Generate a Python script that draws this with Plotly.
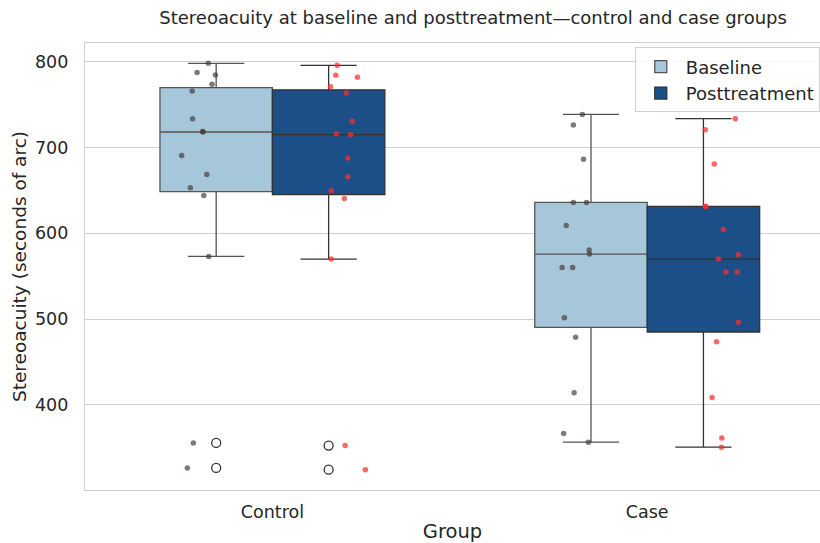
import numpy as np
import plotly.graph_objects as go

groups = ["Control", "Case"]
series = ["Baseline", "Posttreatment"]

# Stereoacuity values (seconds of arc)
control_baseline = [798, 787.2, 784.5, 773.5, 765.8, 733.5, 718.7, 718.0, 690.7,
                    668.6, 653.0, 644.1, 573.0, 355.7, 326.5]
control_post = [795.7, 784.0, 781.7, 770.8, 763.5, 730.4, 716.0, 714.9, 687.7,
                665.9, 649.6, 640.6, 569.9, 352.6, 324.5]
case_baseline = [738.5, 726.2, 686.1, 635.9, 635.9, 609.1, 580.4, 575.7, 560.1,
                 560.1, 501.5, 478.9, 414.0, 366.5, 356.5]
case_post = [733.5, 720.7, 680.7, 631.3, 631.3, 604.4, 574.9, 569.9, 554.8,
             554.8, 496.4, 473.5, 408.5, 361.5, 350.7]

# strip-plot jitter (category units)
jit_control_baseline = [0.029, -0.001, 0.048, 0.039, -0.014, -0.013, 0.014, 0.015, -0.042,
                        0.025, -0.019, 0.017, 0.030, -0.011, -0.027]
jit_control_post = [-0.027, -0.031, 0.027, -0.045, -0.003, 0.013, -0.029, 0.009, 0.001,
                    0.001, -0.043, -0.008, -0.043, -0.006, 0.048]
jit_case_baseline = [0.027, 0.003, 0.030, 0.003, 0.038, -0.016, 0.045, 0.046, -0.027,
                     0.001, -0.021, 0.009, 0.005, -0.023, 0.043]
jit_case_post = [0.035, -0.045, -0.021, -0.045, -0.044, 0.003, 0.043, -0.010, 0.010,
                 0.040, 0.043, -0.015, -0.027, -0.001, -0.002]

data = {
    "Baseline": [control_baseline, case_baseline],
    "Posttreatment": [control_post, case_post],
}
jitter = {
    "Baseline": [jit_control_baseline, jit_case_baseline],
    "Posttreatment": [jit_control_post, jit_case_post],
}

fill = {"Baseline": "#a6c6da", "Posttreatment": "#1c4f88"}
edge = {"Baseline": "#555555", "Posttreatment": "#333333"}
dot = {"Baseline": "rgba(70,58,58,0.68)", "Posttreatment": "rgba(255,45,45,0.72)"}
box_off = {"Baseline": -0.15, "Posttreatment": 0.15}
strip_off = {"Baseline": -0.2, "Posttreatment": 0.2}

def stats(v):
    a = np.sort(np.asarray(v, float))
    q1, med, q3 = np.percentile(a, [25, 50, 75])
    iqr = q3 - q1
    lo = a[a >= q1 - 1.5 * iqr].min()
    hi = a[a <= q3 + 1.5 * iqr].max()
    out = a[(a < lo) | (a > hi)]
    return q1, med, q3, lo, hi, out

fig = go.Figure()

for s in series:
    xs, q1s, meds, q3s, los, his = [], [], [], [], [], []
    oxs, oys = [], []
    for gi, g in enumerate(groups):
        q1, med, q3, lo, hi, out = stats(data[s][gi])
        xs.append(gi + box_off[s]); q1s.append(q1); meds.append(med); q3s.append(q3)
        los.append(lo); his.append(hi)
        oxs += [gi + box_off[s]] * len(out); oys += list(out)
    fig.add_trace(go.Box(
        name=s, x=xs, q1=q1s, median=meds, q3=q3s, lowerfence=los, upperfence=his,
        width=0.3, whiskerwidth=0.5, fillcolor=fill[s],
        line=dict(color=edge[s], width=1.3), boxpoints=False, showlegend=True,
    ))
    fig.add_trace(go.Scatter(
        x=oxs, y=oys, mode="markers", showlegend=False, hoverinfo="skip",
        marker=dict(symbol="circle-open", size=9, color="#333333", line=dict(width=1.3)),
    ))

for s in series:
    for gi, g in enumerate(groups):
        ys = data[s][gi]
        xs = [gi + strip_off[s] + j for j in jitter[s][gi]]
        fig.add_trace(go.Scatter(
            x=xs, y=ys, mode="markers", showlegend=False, hoverinfo="skip",
            marker=dict(size=5.5, color=dot[s], line=dict(width=0)),
        ))

fig.update_layout(
    width=820, height=543,
    margin=dict(l=85, r=0, t=43, b=53, autoexpand=False),
    paper_bgcolor="white", plot_bgcolor="white",
    font=dict(family="DejaVu Sans", color="#262626", size=17.5),
    title=dict(text="Stereoacuity at baseline and posttreatment—control and case groups",
               x=0.528, xref="paper", xanchor="center", y=0.967, yanchor="middle",
               font=dict(size=18, color="#262626")),
    xaxis=dict(range=[-0.5, 1.461], tickvals=[0, 1], ticktext=groups,
               showgrid=False, zeroline=False, showline=True, mirror=True,
               linecolor="#d0d0d0", linewidth=1.3, ticks="", ticklabelstandoff=6,
               tickfont=dict(size=17.5),
               title=dict(text="Group", font=dict(size=19.5), standoff=8)),
    yaxis=dict(range=[300.8, 821.7], tickvals=[400, 500, 600, 700, 800],
               showgrid=True, gridcolor="#d0d0d0", gridwidth=1.1, zeroline=False,
               showline=True, mirror=False, linecolor="#d0d0d0", linewidth=1.3, ticks="",
               ticklabelstandoff=12, tickfont=dict(size=17.5),
               title=dict(text="Stereoacuity (seconds of arc)", font=dict(size=18.5), standoff=3)),
    legend=dict(x=0.748, y=0.99, xanchor="left", yanchor="top",
                bgcolor="rgba(255,255,255,0.85)", bordercolor="#d0d0d0", borderwidth=1,
                font=dict(size=18), tracegroupgap=0, itemwidth=40),
    boxmode="overlay",
)

fig.write_html("out.html")
